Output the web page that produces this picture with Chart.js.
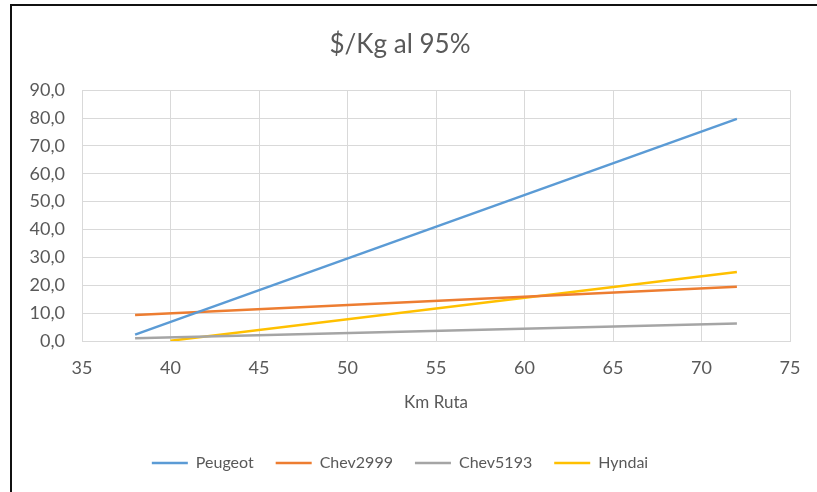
<!DOCTYPE html>
<html>
<head>
<meta charset="utf-8">
<script src="https://cdn.jsdelivr.net/npm/chart.js@4/dist/chart.umd.min.js"></script>
<style>
  html, body { margin: 0; padding: 0; background: #fff; }
  #wrap { position: relative; width: 817px; height: 492px; }
  #frame {
    position: absolute; left: 10px; top: 4px; right: -10px; bottom: -10px;
    border-left: 2px solid #111; border-top: 2px solid #111;
    pointer-events: none;
  }
  canvas { position: absolute; left: 0; top: 0; }
</style>
</head>
<body>
<div id="wrap">
  <canvas id="chart" width="817" height="492"></canvas>
  <div id="frame"></div>
</div>
<script>
// Km de ruta y costo por kilo para cada vehículo
const kmRuta = [38, 72];
const kmRutaHyndai = [40, 72];
const peugeot = [2.3, 79.7];
const chev2999 = [9.3, 19.5];
const chev5193 = [1.0, 6.3];
const hyndai = [0.1, 24.8];
const yTicks = [0, 10, 20, 30, 40, 50, 60, 70, 80, 90];
const xTicks = [35, 40, 45, 50, 55, 60, 65, 70, 75];

const toPoints = (xs, ys) => xs.map((x, i) => ({ x: x, y: ys[i] }));

const FONT = 'Lato, "Open Sans", sans-serif';
const GREY_TEXT = '#595959';
const GRID = '#d9d9d9';

const series = [
  { label: 'Peugeot', xs: kmRuta, ys: peugeot, color: '#5B9BD5' },
  { label: 'Chev2999', xs: kmRuta, ys: chev2999, color: '#ED7D31' },
  { label: 'Chev5193', xs: kmRuta, ys: chev5193, color: '#A5A5A5' },
  { label: 'Hyndai', xs: kmRutaHyndai, ys: hyndai, color: '#FFC000' }
];

new Chart(document.getElementById('chart'), {
  type: 'line',
  data: {
    datasets: series.map(s => ({
      label: s.label,
      data: toPoints(s.xs, s.ys),
      borderColor: s.color,
      backgroundColor: s.color,
      borderWidth: 2.5,
      pointRadius: 0,
      pointStyle: 'line',
      tension: 0,
      fill: false
    }))
  },
  options: {
    responsive: false,
    animation: false,
    layout: { padding: { left: 10, right: 27, top: 0, bottom: 11 } },
    plugins: {
      title: {
        display: true,
        text: '$/Kg al 95%',
        color: GREY_TEXT,
        font: { family: FONT, size: 26, weight: 'normal' },
        padding: { top: 29, bottom: 30 }
      },
      legend: {
        position: 'bottom',
        labels: {
          color: GREY_TEXT,
          font: { family: FONT, size: 16 },
          usePointStyle: true,
          pointStyleWidth: 36,
          padding: 22
        }
      },
      tooltip: { enabled: false }
    },
    scales: {
      x: {
        type: 'linear',
        min: 35,
        max: 75,
        afterBuildTicks: axis => { axis.ticks = xTicks.map(v => ({ value: v })); },
        afterFit: axis => { axis.height = 92; },
        grid: { color: GRID, lineWidth: 1, drawTicks: false },
        border: { color: GRID, width: 1 },
        ticks: { color: GREY_TEXT, font: { family: FONT, size: 18 }, padding: 16, maxRotation: 0 },
        title: {
          display: true,
          text: 'Km Ruta',
          color: GREY_TEXT,
          font: { family: FONT, size: 17 },
          padding: { top: 10, bottom: 20 }
        }
      },
      y: {
        min: 0,
        max: 90,
        afterBuildTicks: axis => { axis.ticks = yTicks.map(v => ({ value: v })); },
        afterFit: axis => { axis.width = 72; },
        grid: { color: GRID, lineWidth: 1, drawTicks: false },
        border: { color: GRID, width: 1 },
        ticks: {
          color: GREY_TEXT,
          font: { family: FONT, size: 18 },
          padding: 17,
          callback: v => v.toFixed(1).replace('.', ',')
        }
      }
    }
  }
});
</script>
</body>
</html>
